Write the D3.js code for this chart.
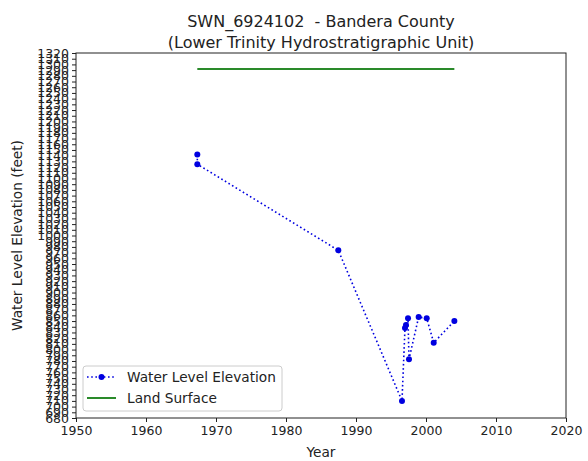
<!DOCTYPE html>
<html>
<head>
<meta charset="utf-8">
<script src="https://cdn.jsdelivr.net/npm/d3@7"></script>
<style>
  body { margin: 0; background: #fff; }
  text { font-family: "DejaVu Sans", sans-serif; fill: #222; }
</style>
</head>
<body>
<svg id="chart"></svg>
<script>
// measured water levels (order as recorded)
const years = [1967.33, 1967.33, 1987.47, 1996.57, 1997.0, 1997.14, 1997.43, 1997.57, 1998.95, 2000.1, 2001.1, 2004.05];
const levels = [1142, 1125, 974, 710, 838, 843, 855, 783, 857, 855, 812, 850];
const landYears = [1967.33, 2004.05];
const landLevels = [1292, 1292];
const xTicks = [1950, 1960, 1970, 1980, 1990, 2000, 2010, 2020];
const yTicks = d3.range(680, 1321, 10);

const svg_size = {width: 588, height: 461};
const margin = {top: 53, right: 22, bottom: 43, left: 76};
const w = svg_size.width - margin.left - margin.right;
const h = svg_size.height - margin.top - margin.bottom;

const svg = d3.select("#chart")
    .attr("width", svg_size.width)
    .attr("height", svg_size.height);
const plot = svg.append("g")
    .attr("transform", `translate(${margin.left},${margin.top})`);

const x = d3.scaleLinear().domain([1950, 2020]).range([0, w]);
const y = d3.scaleLinear().domain([680, 1320]).range([h, 0]);

const xAxis = plot.append("g")
    .attr("transform", `translate(0,${h})`)
    .call(d3.axisBottom(x).tickValues(xTicks).tickFormat(d3.format("d")).tickSize(4).tickPadding(4));
xAxis.selectAll("text").style("font-size", "12.5px");

const yAxis = plot.append("g")
    .call(d3.axisLeft(y).tickValues(yTicks).tickFormat(d3.format("d")).tickSize(4).tickPadding(3));
yAxis.selectAll("text").style("font-size", "12.5px");

[xAxis, yAxis].forEach(a => {
    a.select(".domain").remove();
    a.selectAll("line").attr("stroke", "#222");
});

plot.append("rect")
    .attr("width", w).attr("height", h)
    .attr("fill", "none").attr("stroke", "#222").attr("stroke-width", 1);

const line = d3.line().x(d => x(d[0])).y(d => y(d[1]));

plot.append("path")
    .datum(d3.zip(landYears, landLevels))
    .attr("d", line)
    .attr("fill", "none")
    .attr("stroke", "#2a8a2a")
    .attr("stroke-width", 2);

plot.append("path")
    .datum(d3.zip(years, levels))
    .attr("d", line)
    .attr("fill", "none")
    .attr("stroke", "#0000e0")
    .attr("stroke-width", 1.6)
    .attr("stroke-dasharray", "1.6,2.6");

plot.selectAll(".pt")
    .data(d3.zip(years, levels))
    .enter()
    .append("circle")
    .attr("cx", d => x(d[0]))
    .attr("cy", d => y(d[1]))
    .attr("r", 3)
    .attr("fill", "#0000e0");

// legend
const lg = plot.append("g").attr("transform", "translate(7,313)");
lg.append("rect")
    .attr("width", 199).attr("height", 45).attr("rx", 3)
    .attr("fill", "#fff").attr("fill-opacity", 0.8)
    .attr("stroke", "#ccc");
lg.append("line")
    .attr("x1", 4).attr("x2", 33).attr("y1", 11).attr("y2", 11)
    .attr("stroke", "#0000e0").attr("stroke-width", 1.6).attr("stroke-dasharray", "1.6,2.6");
lg.append("circle").attr("cx", 18.5).attr("cy", 11).attr("r", 3).attr("fill", "#0000e0");
lg.append("line")
    .attr("x1", 4).attr("x2", 33).attr("y1", 32).attr("y2", 32)
    .attr("stroke", "#2a8a2a").attr("stroke-width", 2);
lg.append("text").attr("x", 44).attr("y", 16).style("font-size", "13.7px").text("Water Level Elevation");
lg.append("text").attr("x", 44).attr("y", 37).style("font-size", "13.7px").text("Land Surface");

// titles
svg.append("text")
    .attr("x", margin.left + w / 2).attr("y", 27)
    .attr("text-anchor", "middle").style("font-size", "16px")
    .attr("xml:space", "preserve")
    .text("SWN_6924102  - Bandera County");
svg.append("text")
    .attr("x", margin.left + w / 2).attr("y", 48)
    .attr("text-anchor", "middle").style("font-size", "16px")
    .text("(Lower Trinity Hydrostratigraphic Unit)");

svg.append("text")
    .attr("x", margin.left + w / 2).attr("y", 457)
    .attr("text-anchor", "middle").style("font-size", "13.7px")
    .text("Year");
svg.append("text")
    .attr("transform", `translate(22,${margin.top + h / 2}) rotate(-90)`)
    .attr("text-anchor", "middle").style("font-size", "13.7px")
    .text("Water Level Elevation (feet)");
</script>
</body>
</html>
